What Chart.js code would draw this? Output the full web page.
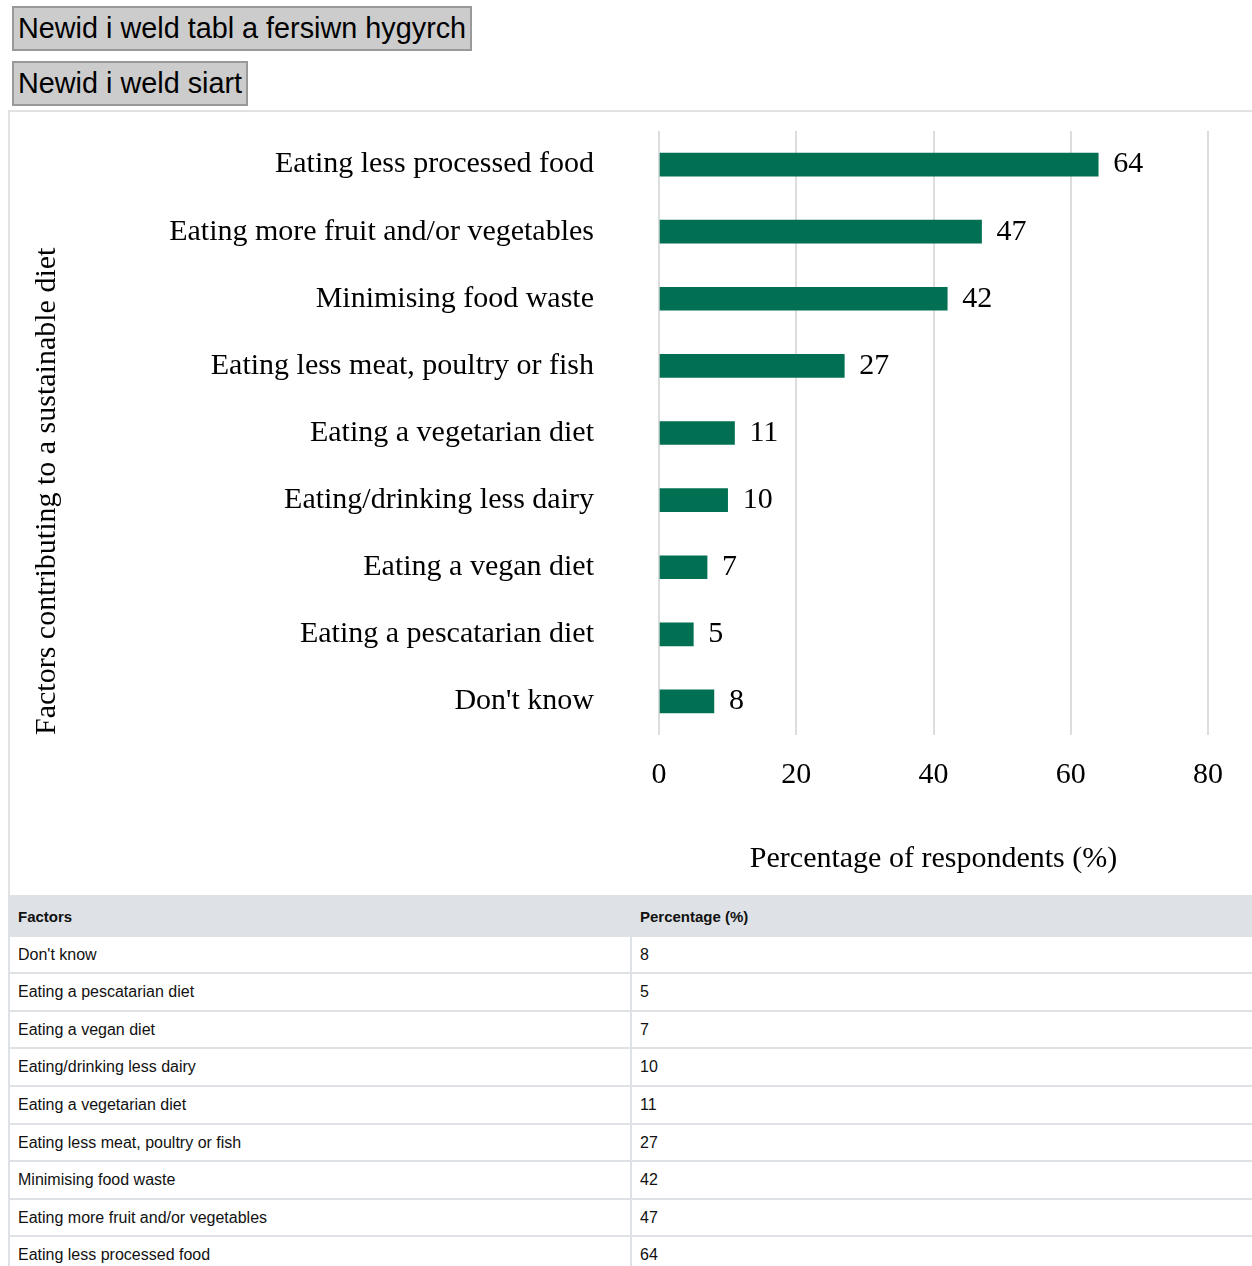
<!DOCTYPE html>
<html>
<head>
<meta charset="utf-8">
<script src="https://cdn.jsdelivr.net/npm/chart.js@4/dist/chart.umd.min.js"></script>
<style>
    body { margin: 0; overflow: hidden; background: #fff; font-family: "Liberation Sans", Arial, sans-serif; }
    .toggle {
        display: block;
        font-family: "Liberation Sans", Arial, sans-serif;
        font-size: 28.8px;
        background: #cccccc;
        border: 2px solid #999999;
        color: #000;
        padding: 0 4px;
        height: 45px;
        margin: 6px 0 0 12px;
    }
    .toggle + .toggle { margin-top: 10px; }
    #chartBox {
        margin: 4px 0 0 8px;
        width: 1244px;
        height: 785px;
        border-top: 2px solid #e2e2e2;
        border-left: 2px solid #e2e2e2;
        box-sizing: border-box;
    }
    table {
        margin-left: 8px;
        width: 1246px;
        table-layout: fixed;
        border-collapse: collapse;
        font-size: 16px;
        color: #111;
    }
    th, td {
        text-align: left;
        padding: 9px 8px;
        line-height: 17.6px;
        border: 2px solid #dee2e6;
        width: 50%;
    }
    th { background: #dee2e6; font-weight: bold; font-size: 15px; padding: 11px 8px 9px 8px; }
</style>
</head>
<body>
<button class="toggle">Newid i weld tabl a fersiwn hygyrch</button>
<button class="toggle">Newid i weld siart</button>
<div id="chartBox"><canvas id="myChart"></canvas></div>
<table id="dataTable">
    <thead><tr><th>Factors</th><th>Percentage (%)</th></tr></thead>
    <tbody></tbody>
</table>
<script>
// table order (the chart lists them the other way round, top to bottom)
const factors = [
    "Don't know",
    'Eating a pescatarian diet',
    'Eating a vegan diet',
    'Eating/drinking less dairy',
    'Eating a vegetarian diet',
    'Eating less meat, poultry or fish',
    'Minimising food waste',
    'Eating more fruit and/or vegetables',
    'Eating less processed food'
];
const percentages = [8, 5, 7, 10, 11, 27, 42, 47, 64];
const xTicks = [0, 20, 40, 60, 80];

const serif = '"Liberation Serif", "Times New Roman", serif';
const barColour = '#016f52';

// fill the accessible table
let tbody = document.querySelector('#dataTable tbody');
for (let i = 0; i < factors.length; i++) {
    let tr = document.createElement('tr');
    tr.innerHTML = '<td></td><td></td>';
    tr.children[0].textContent = factors[i];
    tr.children[1].textContent = percentages[i];
    tbody.appendChild(tr);
}

// value written just past the end of each bar
const valueLabels = {
    id: 'valueLabels',
    afterDatasetsDraw(chart) {
        let ctx = chart.ctx;
        let meta = chart.getDatasetMeta(0);
        ctx.save();
        ctx.font = '30px ' + serif;
        ctx.fillStyle = '#000';
        ctx.textAlign = 'left';
        ctx.textBaseline = 'middle';
        meta.data.forEach((bar, i) => {
            ctx.fillText(chart.data.datasets[0].data[i], bar.x + 15, bar.y);
        });
        ctx.restore();
    }
};

let canvas = document.getElementById('myChart');
let ctx = canvas.getContext('2d');

let chart = new Chart(ctx, {
    type: 'bar',
    data: {
        labels: factors.slice().reverse(),
        datasets: [{
            data: percentages.slice().reverse(),
            backgroundColor: barColour,
            borderWidth: 0,
            barThickness: 23
        }]
    },
    options: {
        indexAxis: 'y',
        responsive: true,
        maintainAspectRatio: false,
        animation: false,
        layout: { padding: { top: 19, right: 44, left: 10, bottom: 0 } },
        plugins: {
            legend: { display: false },
            tooltip: { enabled: false }
        },
        scales: {
            x: {
                min: 0,
                max: 80,
                afterBuildTicks: (scale) => {
                    scale.ticks = xTicks.map(v => ({ value: v }));
                },
                grid: { color: '#dddddd', lineWidth: 2, drawTicks: false },
                border: { display: false },
                ticks: { color: '#000', font: { family: serif, size: 30 }, padding: 22 },
                title: {
                    display: true,
                    text: 'Percentage of respondents (%)',
                    color: '#000',
                    font: { family: serif, size: 30 },
                    padding: { top: 26, bottom: 18 }
                }
            },
            y: {
                // tick length (not drawn) keeps labels away from the bars
                grid: { display: false, drawTicks: true, tickLength: 65 },
                border: { display: false },
                afterFit: (scale) => { scale.width = 639; },
                ticks: { color: '#000', font: { family: serif, size: 30 }, padding: 0 },
                title: {
                    display: true,
                    text: 'Factors contributing to a sustainable diet',
                    align: 'start',
                    color: '#000',
                    font: { family: serif, size: 30 },
                    padding: { top: 9, bottom: 9 }
                }
            }
        }
    },
    plugins: [valueLabels]
});
</script>
</body>
</html>
